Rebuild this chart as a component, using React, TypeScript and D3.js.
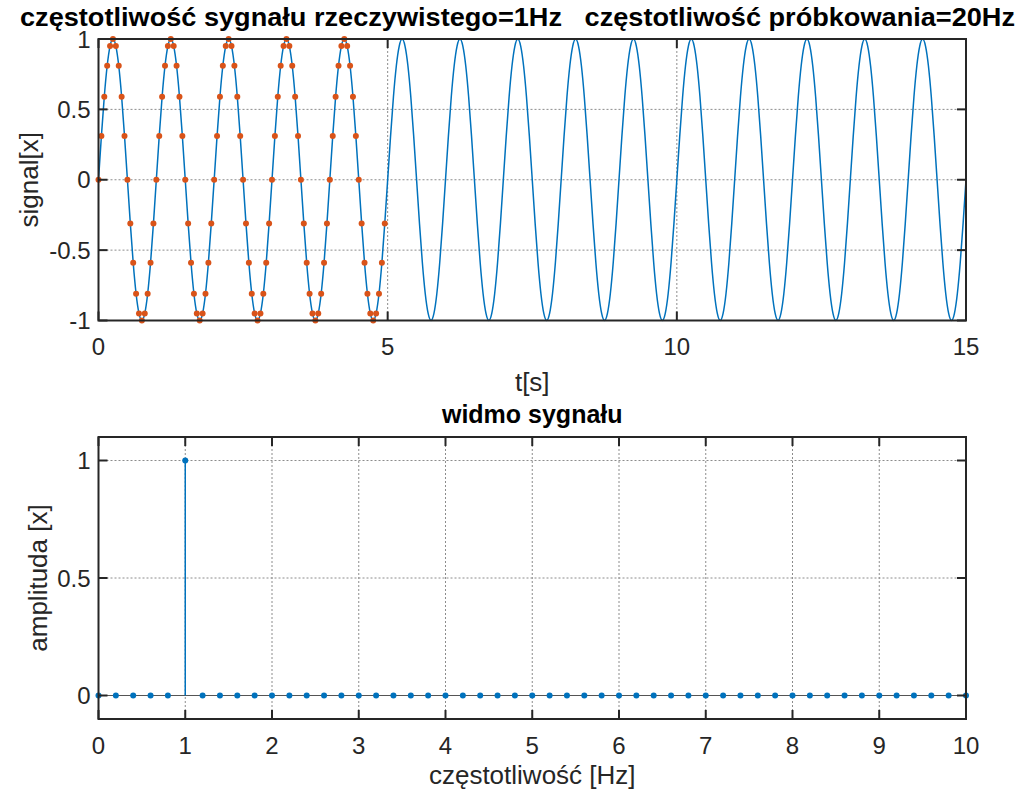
import * as d3 from "d3";

const periodSamples = [
  0, 0.31, 0.59, 0.81, 0.95, 1, 0.95, 0.81, 0.59, 0.31,
  0, -0.31, -0.59, -0.81, -0.95, -1, -0.95, -0.81, -0.59, -0.31,
];
const sampleRate = 20;
const signalPeriods = 15; // blue line, 0..15 s
const sampledPeriods = 5; // orange dots, 0..4.95 s

const topXTicks = [0, 5, 10, 15];
const topYTicks = [-1, -0.5, 0, 0.5, 1];
const topYLabels = ["-1", "-0.5", "0", "0.5", "1"];

// spectrum: 0..10 Hz, 0.2 Hz bins
const spectrumStep = 0.2;
const spectrumAmp = [
  0, 0, 0, 0, 0, 1, 0, 0, 0, 0,
  0, 0, 0, 0, 0, 0, 0, 0, 0, 0,
  0, 0, 0, 0, 0, 0, 0, 0, 0, 0,
  0, 0, 0, 0, 0, 0, 0, 0, 0, 0,
  0, 0, 0, 0, 0, 0, 0, 0, 0, 0,
  0,
];
const botXTicks = [0, 1, 2, 3, 4, 5, 6, 7, 8, 9, 10];
const botYTicks = [0, 0.5, 1];
const botYLabels = ["0", "0.5", "1"];

const TITLE_TOP =
  "częstotliwość sygnału rzeczywistego=1Hz   częstotliwość próbkowania=20Hz";

const W = 1032;
const H = 795;
const FONT = "'Liberation Sans', Arial, sans-serif";
const BLUE = "#0072BD";
const ORANGE = "#D95319";
const AXIS_COLOR = "#262626";
const GRID_COLOR = "#8c8c8c";
const TICK_LEN = 9;

const TOP = { left: 98.5, right: 966, top: 39, bottom: 320.5 };
const BOT = { left: 98.5, right: 966, top: 437, bottom: 719 };

type Box = typeof TOP;
type Lin = d3.ScaleLinear<number, number>;

function Frame({
  box,
  x,
  y,
  xTicks,
  yTicks,
  yLabels,
}: {
  box: Box;
  x: Lin;
  y: Lin;
  xTicks: number[];
  yTicks: number[];
  yLabels: string[];
}) {
  return (
    <g>
      <rect
        x={box.left}
        y={box.top}
        width={box.right - box.left}
        height={box.bottom - box.top}
        fill="none"
        stroke={AXIS_COLOR}
        strokeWidth={2}
      />
      {xTicks.map((t) => (
        <g key={"x" + t}>
          <line x1={x(t)} x2={x(t)} y1={box.bottom} y2={box.bottom - TICK_LEN} stroke={AXIS_COLOR} strokeWidth={2} />
          <line x1={x(t)} x2={x(t)} y1={box.top} y2={box.top + TICK_LEN} stroke={AXIS_COLOR} strokeWidth={2} />
          <text
            x={x(t)}
            y={box.bottom + 34.5}
            textAnchor="middle"
            fontSize={24}
            fontFamily={FONT}
            fill={AXIS_COLOR}
          >
            {t}
          </text>
        </g>
      ))}
      {yTicks.map((t, i) => (
        <g key={"y" + t}>
          <line x1={box.left} x2={box.left + TICK_LEN} y1={y(t)} y2={y(t)} stroke={AXIS_COLOR} strokeWidth={2} />
          <line x1={box.right} x2={box.right - TICK_LEN} y1={y(t)} y2={y(t)} stroke={AXIS_COLOR} strokeWidth={2} />
          <text
            x={box.left - 8}
            y={y(t) + 8.5}
            textAnchor="end"
            fontSize={24}
            fontFamily={FONT}
            fill={AXIS_COLOR}
          >
            {yLabels[i]}
          </text>
        </g>
      ))}
    </g>
  );
}

function Grid({ box, x, y, xGrid, yGrid }: { box: Box; x: Lin; y: Lin; xGrid: number[]; yGrid: number[] }) {
  return (
    <g>
      {xGrid.map((t) => (
        <line key={"gx" + t} x1={x(t)} x2={x(t)} y1={box.top} y2={box.bottom} stroke={GRID_COLOR} strokeDasharray="2,2" />
      ))}
      {yGrid.map((t) => (
        <line key={"gy" + t} x1={box.left} x2={box.right} y1={y(t)} y2={y(t)} stroke={GRID_COLOR} strokeDasharray="2,2" />
      ))}
    </g>
  );
}

export default function App() {
  // top chart
  const xTop = d3.scaleLinear().domain([0, 15]).range([TOP.left, TOP.right]);
  const yTop = d3.scaleLinear().domain([-1, 1]).range([TOP.bottom, TOP.top]);

  const signal: number[] = [];
  for (let p = 0; p < signalPeriods; p++) signal.push(...periodSamples);
  signal.push(periodSamples[0]);
  const samples: number[] = [];
  for (let p = 0; p < sampledPeriods; p++) samples.push(...periodSamples);

  const line = d3
    .line<number>()
    .x((_, i) => xTop(i / sampleRate))
    .y((d) => yTop(d))
    .curve(d3.curveNatural);

  // bottom chart
  const xBot = d3.scaleLinear().domain([0, 10]).range([BOT.left, BOT.right]);
  const yBot = d3.scaleLinear().domain([-0.1, 1.1]).range([BOT.bottom, BOT.top]);

  const midX = (TOP.left + TOP.right) / 2;

  return (
    <svg
      width={W}
      height={H}
      style={{ position: "absolute", left: 0, top: 0, background: "#fff" }}
      xmlns="http://www.w3.org/2000/svg"
    >
      <rect width={W} height={H} fill="#fff" />

      {/* top: signal */}
      <Grid box={TOP} x={xTop} y={yTop} xGrid={[5, 10]} yGrid={[-0.5, 0, 0.5]} />
      <path d={line(signal) ?? undefined} fill="none" stroke={BLUE} strokeWidth={1.5} />
      {samples.map((v, i) => (
        <circle key={i} cx={xTop(i / sampleRate)} cy={yTop(v)} r={3} fill={ORANGE} />
      ))}
      <Frame box={TOP} x={xTop} y={yTop} xTicks={topXTicks} yTicks={topYTicks} yLabels={topYLabels} />
      <text
        x={20}
        y={26}
        fontSize={26}
        fontWeight="bold"
        fontFamily={FONT}
        fill="#000"
        textLength={995}
        lengthAdjust="spacingAndGlyphs"
        style={{ whiteSpace: "pre" }}
      >
        {TITLE_TOP}
      </text>
      <text x={midX} y={390.5} textAnchor="middle" fontSize={26} fontFamily={FONT} fill={AXIS_COLOR}>
        t[s]
      </text>
      <text
        transform={`translate(38,${(TOP.top + TOP.bottom) / 2}) rotate(-90)`}
        textAnchor="middle"
        fontSize={26}
        fontFamily={FONT}
        fill={AXIS_COLOR}
      >
        signal[x]
      </text>

      {/* bottom: spectrum */}
      <Grid box={BOT} x={xBot} y={yBot} xGrid={[1, 2, 3, 4, 5, 6, 7, 8, 9]} yGrid={[0, 0.5, 1]} />
      <line x1={BOT.left} x2={BOT.right} y1={yBot(0)} y2={yBot(0)} stroke="#555" strokeWidth={1.2} />
      {spectrumAmp.map((a, i) => (
        <g key={i}>
          {a !== 0 && (
            <line
              x1={xBot(i * spectrumStep)}
              x2={xBot(i * spectrumStep)}
              y1={yBot(0)}
              y2={yBot(a)}
              stroke={BLUE}
              strokeWidth={1.5}
            />
          )}
          <circle cx={xBot(i * spectrumStep)} cy={yBot(a)} r={3} fill={BLUE} />
        </g>
      ))}
      <Frame box={BOT} x={xBot} y={yBot} xTicks={botXTicks} yTicks={botYTicks} yLabels={botYLabels} />
      <text x={midX} y={423} textAnchor="middle" fontSize={25} fontWeight="bold" fontFamily={FONT} fill="#000">
        widmo sygnału
      </text>
      <text x={midX} y={784} textAnchor="middle" fontSize={26} fontFamily={FONT} fill={AXIS_COLOR}>
        częstotliwość [Hz]
      </text>
      <text
        transform={`translate(46.5,${yBot(0.5)}) rotate(-90)`}
        textAnchor="middle"
        fontSize={26}
        fontFamily={FONT}
        fill={AXIS_COLOR}
      >
        amplituda [x]
      </text>
    </svg>
  );
}
